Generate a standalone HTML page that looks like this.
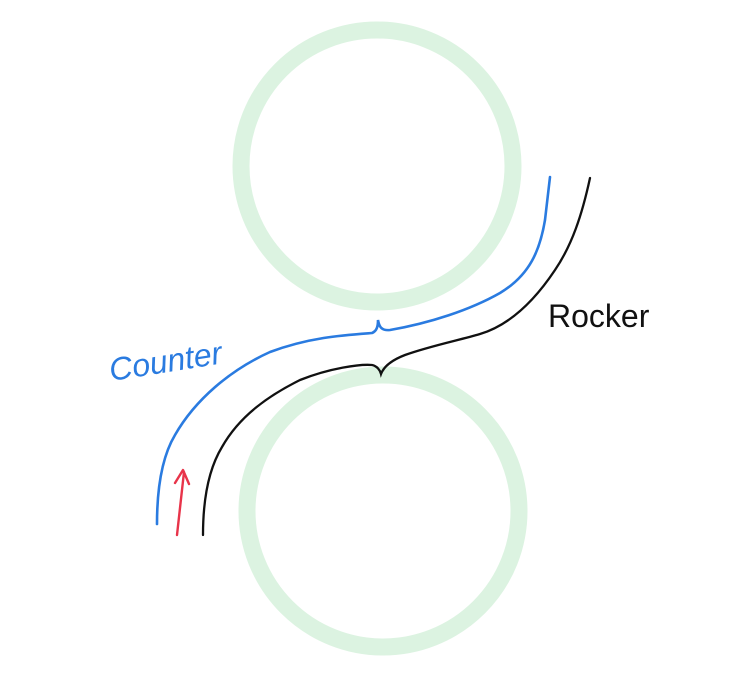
<!DOCTYPE html>
<html><head><style>body{margin:0;background:#fff}</style></head><body>
<svg width="743" height="675" xmlns="http://www.w3.org/2000/svg">
<rect width="743" height="675" fill="#fff"/>
<circle cx="377" cy="166" r="136" fill="none" stroke="#dcf3e1" stroke-width="17"/>
<circle cx="383" cy="511" r="136" fill="none" stroke="#dcf3e1" stroke-width="17"/>
<path d="M157,524 C157,495 160,460 175,435 C195,400 230,370 270,352 C310,337 345,335 372,333 C377,331 378,326 378,320 C379,326 381,331 390,330 C430,323 470,310 500,293 C530,275 540,250 545,220 L550,177" fill="none" stroke="#2a7be0" stroke-width="2.6" stroke-linecap="round"/>
<path d="M203,535 C203,500 208,470 222,447 C240,415 270,395 300,380 C330,368 360,364 372,365 C377,366 380,370 381,374 C384,366 392,360 405,355 C430,346 460,340 480,334 C510,325 535,300 555,270 C572,245 582,215 590,178" fill="none" stroke="#111" stroke-width="2.3" stroke-linecap="round"/>
<path d="M177,535 L184,472 M175,483 L183,470 L189,484" fill="none" stroke="#e8344a" stroke-width="2.4" stroke-linecap="round" stroke-linejoin="round"/>
<text x="111" y="381" font-family="Liberation Sans, sans-serif" font-size="32" fill="#2a7be0" transform="rotate(-9 111 381)" font-style="italic">Counter</text>
<text x="548" y="327" font-family="Liberation Sans, sans-serif" font-size="32" fill="#111">Rocker</text>
</svg>
</body></html>
